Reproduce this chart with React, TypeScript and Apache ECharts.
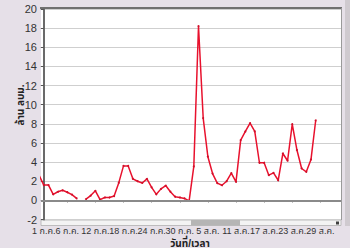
import React, { useEffect, useRef } from "react";
import * as echarts from "echarts";

// day index 0 = 1 ก.ค.
const firstDay = -1;
const values: (number | null)[] = [
  2.6, 1.6, 1.6, 0.63, 0.9, 1.05, 0.85, 0.6, 0.2, null,
  0.12, 0.5, 1.0, 0.07, 0.3, 0.3, 0.45, 1.85, 3.6, 3.6,
  2.25, 2.0, 1.82, 2.25, 1.35, 0.63, 1.2, 1.55, 0.9, 0.38,
  0.3, 0.2, -0.05, 3.55, 18.2, 8.6, 4.56, 2.8, 1.8, 1.58,
  2.0, 2.85, 1.93, 6.3, 7.2, 8.07, 7.2, 3.93, 3.93, 2.63,
  2.87, 2.1, 4.9, 4.14, 7.96, 5.26, 3.33, 2.98, 4.28, 8.35,
];
const xTickDays = [0, 5, 11, 17, 23, 29, 35, 41, 47, 53, 59];
const xTickLabels = [
  "1 ก.ค.", "6 ก.ค.", "12 ก.ค.", "18 ก.ค.", "24 ก.ค.", "30 ก.ค.",
  "5 ส.ค.", "11 ส.ค.", "17 ส.ค.", "23 ส.ค.", "29 ส.ค.",
];
const yTitle = "ล้าน ลบม.";
const xTitle = "วันที่/เวลา";

const FONT = "Tahoma, 'Liberation Sans', 'Noto Sans Thai', 'DejaVu Sans', sans-serif";

export default function App() {
  const ref = useRef<HTMLDivElement>(null);
  useEffect(() => {
    if (!ref.current) return;
    const chart = echarts.init(ref.current, undefined, { renderer: "svg" });
    const data = values.map((v, i) => [firstDay + i, v]);
    const G = { left: 41, right: 9, top: 9, bottom: 28.5 };
    chart.setOption({
      animation: false,
      backgroundColor: "#e6e0e8",
      grid: { ...G, show: true, backgroundColor: "#ffffff", borderWidth: 0 },
      xAxis: {
        type: "value",
        min: -0.6,
        max: 63.4,
        offset: 5,
        axisLine: { show: false },
        splitLine: { show: false },
        axisTick: { show: true, length: 2, customValues: xTickDays, lineStyle: { color: "#555" } },
        axisLabel: {
          customValues: xTickDays,
          formatter: (v: number) => {
            const i = xTickDays.indexOf(Math.round(v));
            return i >= 0 ? xTickLabels[i] : "";
          },
          color: "#333",
          fontSize: 9,
          fontFamily: FONT,
          margin: 1.5,
          hideOverlap: false,
          showMinLabel: true,
          showMaxLabel: true,
        },
      },
      yAxis: {
        type: "value",
        min: -2,
        max: 20,
        interval: 2,
        axisLine: { show: true, lineStyle: { color: "#6a6a6a", width: 2 } },
        axisTick: { show: true, length: 3, lineStyle: { color: "#555" } },
        axisLabel: { color: "#333", fontSize: 11, fontFamily: FONT, margin: 4 },
        splitLine: { show: true, lineStyle: { color: "#cfcfcf", width: 1 } },
      },
      series: [
        {
          type: "line",
          data,
          connectNulls: false,
          symbol: "circle",
          symbolSize: 2,
          showSymbol: true,
          lineStyle: { color: "#e8112d", width: 1.5 },
          itemStyle: { color: "#d0102a" },
          clip: true,
          markLine: {
            silent: true,
            symbol: "none",
            label: { show: false },
            lineStyle: { color: "#8a8a8a", width: 2, type: "solid" },
            data: [{ yAxis: 0 }],
          },
        },
      ],
      graphic: [
        { type: "line", shape: { x1: 40, y1: 8, x2: 342, y2: 8 }, style: { stroke: "#707070", lineWidth: 2 } },
        { type: "line", shape: { x1: 341.5, y1: 8, x2: 341.5, y2: 220 }, style: { stroke: "#9a9a9a", lineWidth: 1 } },
        { type: "rect", shape: { x: 345, y: 0, width: 5, height: 226 }, style: { fill: "#cfcacf" } },
        { type: "rect", shape: { x: 41, y: 220, width: 300, height: 5.5 }, style: { fill: "#f3f3f3", stroke: "#b0b0b0", lineWidth: 0.8 } },
        { type: "rect", shape: { x: 191, y: 220, width: 49, height: 5.5 }, style: { fill: "#b5b5b5" } },
        { type: "rect", shape: { x: 336, y: 221.5, width: 3, height: 3 }, style: { fill: "#404040" } },
        {
          type: "text",
          x: 20,
          y: 105,
          rotation: Math.PI / 2,
          style: {
            text: yTitle,
            fill: "#222",
            font: `bold 10px ${FONT}`,
            align: "center",
            verticalAlign: "middle",
          },
        },
        {
          type: "text",
          x: 190,
          y: 243,
          style: {
            text: xTitle,
            fill: "#222",
            font: `bold 10px ${FONT}`,
            align: "center",
            verticalAlign: "middle",
          },
        },
      ],
    });
    return () => chart.dispose();
  }, []);
  return (
    <div
      ref={ref}
      style={{ position: "fixed", left: 0, top: 0, width: 350, height: 248 }}
    />
  );
}
